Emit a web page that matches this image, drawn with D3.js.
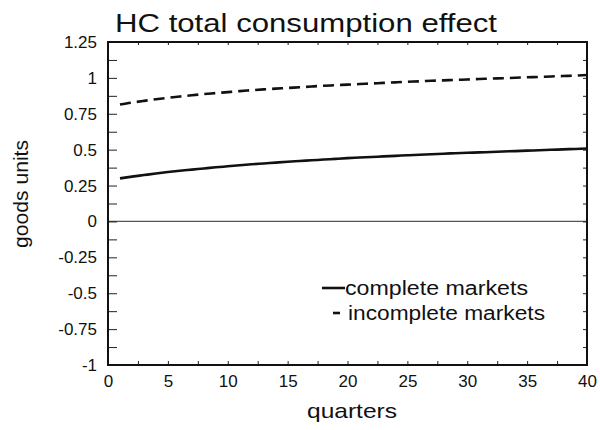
<!DOCTYPE html>
<html>
<head>
<meta charset="utf-8">
<script src="https://cdn.jsdelivr.net/npm/d3@7"></script>
<style>
  body { margin: 0; background: #fff; }
  svg text { font-family: "Liberation Sans", Arial, sans-serif; fill: #111; }
</style>
</head>
<body>
<svg id="chart" width="600" height="430"></svg>
<script>
"use strict";

// quarters 1..40
var quarters = d3.range(1, 41);

var complete = [
  0.300, 0.312, 0.323, 0.334, 0.344, 0.353, 0.361, 0.369, 0.377, 0.384,
  0.391, 0.398, 0.404, 0.410, 0.416, 0.421, 0.426, 0.431, 0.436, 0.441,
  0.445, 0.449, 0.453, 0.457, 0.461, 0.465, 0.468, 0.472, 0.475, 0.478,
  0.481, 0.484, 0.487, 0.490, 0.493, 0.496, 0.499, 0.502, 0.505, 0.508
];

var incomplete = [
  0.814, 0.828, 0.840, 0.851, 0.861, 0.870, 0.879, 0.887, 0.894, 0.901,
  0.908, 0.914, 0.920, 0.925, 0.930, 0.935, 0.940, 0.945, 0.949, 0.953,
  0.957, 0.961, 0.965, 0.969, 0.973, 0.976, 0.980, 0.983, 0.986, 0.989,
  0.992, 0.995, 0.998, 1.001, 1.004, 1.007, 1.010, 1.013, 1.016, 1.020
];

var yTickLabels = [1.25, 1, 0.75, 0.5, 0.25, 0, -0.25, -0.5, -0.75, -1];
var xTickLabels = [0, 5, 10, 15, 20, 25, 30, 35, 40];
var legendLabels = ["complete markets", "incomplete markets"];

var svg = d3.select('#chart');
var margin = { left: 108, right: 13, top: 42, bottom: 65 };
var width = 600 - margin.left - margin.right;
var height = 430 - margin.top - margin.bottom;

var x = d3.scaleLinear().domain([0, 40]).range([0, width]);
var y = d3.scaleLinear().domain([-1, 1.25]).range([height, 0]);

var g = svg.append('g').attr('transform', 'translate(' + margin.left + ',' + margin.top + ')');

// scanned text in the original is wider than the font, so texts get a fixed length
function wideText( sel, len ) {
    return sel.attr('textLength', len).attr('lengthAdjust', 'spacingAndGlyphs');
}

// title
wideText(svg.append('text')
    .attr('x', 115).attr('y', 32)
    .style('font-size', '26px')
    .text('HC total consumption effect'), 382);

// zero line
g.append('line')
    .attr('x1', 0).attr('x2', width)
    .attr('y1', y(0)).attr('y2', y(0))
    .attr('stroke', '#555').attr('stroke-width', 1.2);

// inward ticks on all four sides
var yMinor = d3.range(-1, 1.25001, 0.125);
var xMinor = d3.range(0, 40.001, 2.5);

function tickAxis( axis, scale, vals, size ) {
    return axis(scale).tickValues(vals).tickSize(size).tickFormat('');
}

g.append('g').call(tickAxis(d3.axisRight, y, yMinor, 9));
g.append('g').attr('transform', 'translate(' + width + ',0)').call(tickAxis(d3.axisLeft, y, yMinor, 4));
g.append('g').attr('transform', 'translate(0,' + height + ')').call(tickAxis(d3.axisTop, x, xMinor, 4));
g.append('g').call(tickAxis(d3.axisBottom, x, xMinor, 3));
g.selectAll('.domain').remove();
g.selectAll('.tick line').attr('stroke', '#222').attr('stroke-width', 1);

// frame
g.append('rect')
    .attr('width', width).attr('height', height)
    .attr('fill', 'none').attr('stroke', '#111').attr('stroke-width', 2);

// tick labels
var yLab = d3.axisLeft(y).tickValues(yTickLabels).tickSize(0).tickPadding(11).tickFormat(function( d ) { return String(d); });
var yl = g.append('g').call(yLab);
yl.select('.domain').remove();
yl.selectAll('text').style('font-size', '17px').style('font-family', '"Liberation Sans", Arial, sans-serif').attr('fill', '#111');

var xLab = d3.axisBottom(x).tickValues(xTickLabels).tickSize(0).tickPadding(10).tickFormat(d3.format('d'));
var xl = g.append('g').attr('transform', 'translate(0,' + height + ')').call(xLab);
xl.select('.domain').remove();
xl.selectAll('text').style('font-size', '17px').style('font-family', '"Liberation Sans", Arial, sans-serif').attr('fill', '#111');

// axis titles
wideText(svg.append('text')
    .attr('transform', 'translate(28,194) rotate(-90)')
    .attr('text-anchor', 'middle')
    .style('font-size', '20px')
    .text('goods units'), 108);

wideText(svg.append('text')
    .attr('x', 352).attr('y', 418)
    .attr('text-anchor', 'middle')
    .style('font-size', '21px')
    .text('quarters'), 90);

// lines
var line = d3.line()
    .x(function( d ) { return x(d[0]); })
    .y(function( d ) { return y(d[1]); })
    .curve(d3.curveMonotoneX);

g.append('path')
    .datum(quarters.map(function( q, i ) { return [q, complete[i]]; }))
    .attr('d', line)
    .attr('fill', 'none').attr('stroke', '#111').attr('stroke-width', 2.6);

g.append('path')
    .datum(quarters.map(function( q, i ) { return [q, incomplete[i]]; }))
    .attr('d', line)
    .attr('fill', 'none').attr('stroke', '#111').attr('stroke-width', 2.6)
    .attr('stroke-dasharray', '11,6');

// legend
var lg = svg.append('g');
lg.append('line').attr('x1', 322).attr('x2', 345).attr('y1', 288).attr('y2', 288)
    .attr('stroke', '#111').attr('stroke-width', 2.6);
lg.append('line').attr('x1', 333).attr('x2', 340).attr('y1', 313).attr('y2', 313)
    .attr('stroke', '#111').attr('stroke-width', 2.6);
var legendX = [345, 348];
var legendLen = [183, 197];
lg.selectAll('text.legend')
    .data(legendLabels)
    .enter().append('text')
    .attr('class', 'legend')
    .attr('x', function( d, i ) { return legendX[i]; })
    .attr('y', function( d, i ) { return 295 + i * 25; })
    .attr('textLength', function( d, i ) { return legendLen[i]; })
    .attr('lengthAdjust', 'spacingAndGlyphs')
    .style('font-size', '20px')
    .text(function( d ) { return d; });
</script>
</body>
</html>
